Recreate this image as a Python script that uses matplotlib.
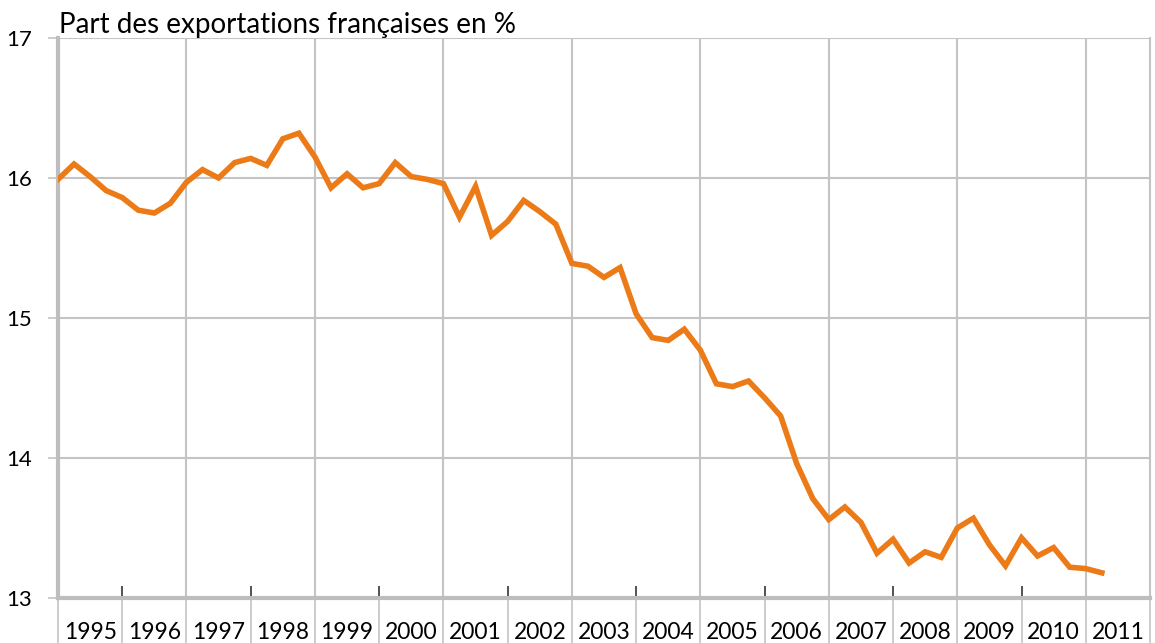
import numpy as np
import matplotlib.pyplot as plt
from matplotlib.transforms import blended_transform_factory

plt.rcParams['font.family'] = ['Lato', 'DejaVu Sans']

# Données trimestrielles : 1995 T1 -> 2011 T2
debut = 1995
part = [15.99, 16.10, 16.01, 15.91, 15.86, 15.77, 15.75, 15.82,
        15.97, 16.06, 16.00, 16.11, 16.14, 16.09, 16.28, 16.32,
        16.15, 15.93, 16.03, 15.93, 15.96, 16.11, 16.01, 15.99,
        15.96, 15.72, 15.94, 15.59, 15.69, 15.84, 15.76, 15.67,
        15.39, 15.37, 15.29, 15.36, 15.03, 14.86, 14.84, 14.92,
        14.77, 14.53, 14.51, 14.55, 14.43, 14.30, 13.96, 13.71,
        13.56, 13.65, 13.54, 13.32, 13.42, 13.25, 13.33, 13.29,
        13.50, 13.57, 13.38, 13.23, 13.43, 13.30, 13.36, 13.22,
        13.21, 13.18]
annees = list(range(1995, 2012))
titre = 'Part des exportations françaises en %'

x = debut + np.arange(len(part)) / 4

fig = plt.figure(figsize=(11.55, 6.43), dpi=100)
ax = fig.add_axes([58 / 1155, 45 / 643, 1092 / 1155, 560 / 643])

gris = '#C4C4C4'
ax.set_xlim(1995, 2012)
ax.set_ylim(13, 17)

# grille verticale tous les deux ans, horizontale à chaque unité
for a in range(1995, 2012, 2):
    ax.axvline(a, color=gris, lw=1.5, zorder=1)
for v in [14, 15, 16, 17]:
    ax.axhline(v, color=gris, lw=1.5, zorder=1)

# petites marques noires sur l'axe
trans = blended_transform_factory(ax.transData, ax.transAxes)
ax.vlines(range(1996, 2012, 2), 0, 12 / 560, transform=trans, color='#333333', lw=1.2, zorder=2)

ax.plot(x, part, color='#EB7A17', lw=4, solid_joinstyle='miter', zorder=3)

# axe x : séparateurs gris sous l'axe, étiquettes au milieu de chaque année
ax.set_xticks(range(1995, 2013))
ax.set_xticklabels([])
ax.tick_params(axis='x', which='major', direction='out', length=34, width=1.2, color=gris)
ax.set_xticks([a + 0.5 for a in annees], minor=True)
ax.set_xticklabels([str(a) for a in annees], minor=True, fontsize=16.5)
ax.tick_params(axis='x', which='minor', length=0, pad=17)

ax.set_yticks([13, 14, 15, 16, 17])
ax.set_yticklabels(['13', '14', '15', '16', '17'], fontsize=16)
ax.tick_params(axis='y', direction='out', length=7, width=1.2, color=gris, pad=12)

ax.spines['top'].set_visible(False)
ax.spines['right'].set_color(gris)
ax.spines['right'].set_linewidth(1.5)
ax.spines['left'].set_color('#BDBDBD')
ax.spines['left'].set_linewidth(3)
ax.spines['bottom'].set_color('#BDBDBD')
ax.spines['bottom'].set_linewidth(3)

fig.text(59 / 1155, 1 - 33 / 643, titre, fontsize=20, va='baseline', ha='left')

fig.savefig('out.png', dpi=100)
